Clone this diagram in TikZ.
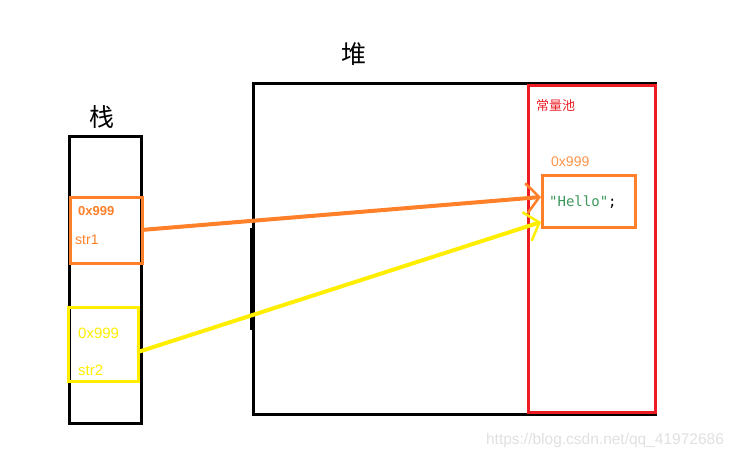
\documentclass[tikz,border=0pt]{standalone}
\usepackage{fontspec}
\setmainfont{Liberation Sans}
\newfontfamily\cjk{Noto Sans CJK SC}
\newfontfamily\monof{DejaVu Sans Mono}
\usetikzlibrary{arrows.meta,calc}
\definecolor{myorange}{RGB}{255,128,40}
\definecolor{myyellow}{RGB}{255,238,0}
\definecolor{myred}{RGB}{237,28,36}
\definecolor{mygreen}{RGB}{60,150,90}
\begin{document}
\begin{tikzpicture}[x=1pt,y=-1pt,
  box/.style={draw,line width=#1,inner sep=0pt,anchor=north west},
  lbl/.style={inner sep=0pt,anchor=center},
  arr/.style={line width=4pt,-{Straight Barb[length=13pt,width=30pt,line width=2.5pt]}}]
\useasboundingbox (0,0) rectangle (736,458);
% stack
\node[box=3pt,minimum width=72pt,minimum height=287pt] (stack) at (68,135) {};
\node[lbl,font=\cjk\fontsize{25}{25}\selectfont] (stacklbl) at (102,117) {栈};
\node[box=3pt,draw=myorange,minimum width=72pt,minimum height=66pt] (s1) at (69,196) {};
\node[lbl,anchor=west,text=myorange,font=\bfseries\fontsize{13}{13}\selectfont] (s1a) at (78,211) {0x999};
\node[lbl,anchor=west,text=myorange,font=\fontsize{14}{14}\selectfont] (s1b) at (75,240) {str1};
\node[box=3pt,draw=myyellow,minimum width=70pt,minimum height=74pt] (s2) at (67,306) {};
\node[lbl,anchor=west,text=myyellow,font=\fontsize{15}{15}\selectfont] (s2a) at (78,333) {0x999};
\node[lbl,anchor=west,text=myyellow,font=\fontsize{15}{15}\selectfont] (s2b) at (78,370) {str2};
% heap
\node[box=2.5pt,minimum width=402pt,minimum height=331pt] (heap) at (252,82) {};
\draw[line width=4pt] (252,228) -- (252,330);
\node[lbl,font=\cjk\fontsize{25}{25}\selectfont] (heaplbl) at (354,54) {堆};
% pool
\node[box=3pt,draw=myred,minimum width=127pt,minimum height=327pt] (pool) at (527,84) {};
\node[lbl,anchor=west,text=myred,font=\cjk\fontsize{13}{13}\selectfont] (poollbl) at (536,106) {常量池};
\node[lbl,anchor=west,text=myorange!85,font=\fontsize{14}{14}\selectfont] (addr) at (551,162) {0x999};
\node[box=3pt,draw=myorange,minimum width=93pt,minimum height=52pt] (hello) at (541,174) {};
\node[lbl,anchor=west,font=\monof\fontsize{14}{14}\selectfont] (hellotxt) at (549,202) {\textcolor{mygreen}{"Hello"};};
% watermark
\node[lbl,text=black!12,font=\fontsize{15.5}{15.5}\selectfont] (wm) at (605,440) {https://blog.csdn.net/qq\_41972686};
% arrows
\coordinate (a1s) at (141,230);
\coordinate (a1e) at (541,197);
\coordinate (a2s) at (138,352);
\coordinate (a2e) at (541,222);
\draw[arr,myorange] (a1s) -- (a1e);
\draw[arr,myyellow] (a2s) -- (a2e);
\end{tikzpicture}
\end{document}
